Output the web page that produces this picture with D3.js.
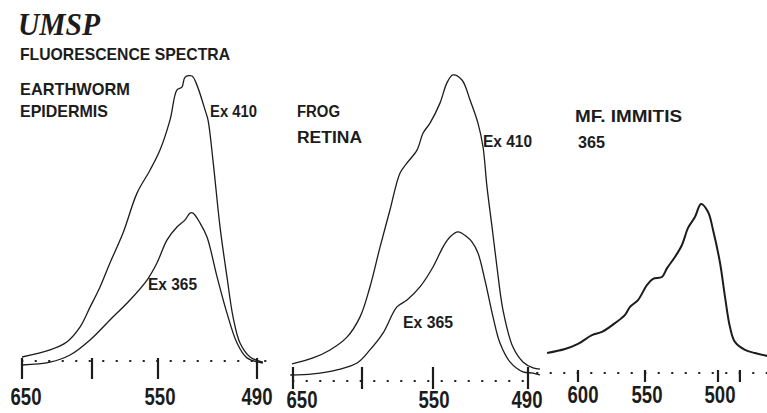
<!DOCTYPE html>
<html>
<head>
<meta charset="utf-8">
<script src="https://cdn.jsdelivr.net/npm/d3@7/dist/d3.min.js"></script>
<style>
  html, body { margin: 0; padding: 0; background: #fff; }
  svg { display: block; }
</style>
</head>
<body>
<svg id="chart" width="767" height="413"></svg>
<script>
// ---------- DATA (wavelength nm, relative fluorescence intensity) ----------
const wormEx410 = [
  [650,1.4],[630,3.9],[618,6.7],[608.6,11.9],[601.4,18.9],[593.9,26],[586.4,34.4],
  [576.5,44.9],[565.9,58.9],[556,67],[548.8,74],[542.7,84.6],[538.5,95.1],[535.5,96.1],
  [533.6,99.6],[529.4,100],[526.4,96.8],[521.5,88.1],[519.7,84.6],[516.7,70.5],
  [512.4,47],[508.2,29.5],[504.5,15.4],[500.3,6.3],[494.2,1.4],[486.4,-0.4]
];
const wormEx365 = [
  [650,-1.4],[630,-0.4],[615.7,2.1],[601.4,7.4],[586.4,14.4],[571.2,21.4],[558.3,28.4],
  [550.8,34.4],[544.5,42.5],[538.5,47],[533.6,49.5],[530.6,51.9],[528.8,51.9],
  [524.5,48.4],[520.3,43.5],[514.2,29.5],[508.2,16.8],[502.1,6.3],[496.1,1.1],[486.4,-0.7]
];
const frogEx410 = [
  [650.7,6],[635.5,8.1],[623.2,10.9],[610.9,15.4],[601.4,22.5],[594.4,33],[587.3,47],
  [580.3,60],[573.2,73],[568.3,76.5],[561.3,81],[557,87],[552.1,90.5],[545.6,97.5],
  [541.2,104.6],[537.4,107.4],[531.7,105.6],[526.6,98.6],[521.6,90.5],[518.4,82.1],
  [515.9,68.1],[512.7,54],[509.6,40],[505.8,24.9],[499.5,11.9],[493.2,6.7],[486.8,4.6],[482.4,4.2]
];
const frogEx365 = [
  [652,2.1],[635.5,2.5],[618.1,3.9],[603.6,6.3],[594.4,10.9],[585.2,16.8],[575.4,26],
  [568.3,28.4],[559.2,33],[550,40],[543.7,47],[539.3,50.5],[534.2,52.3],[528.5,50.5],
  [525.4,48.8],[521.6,44.9],[517.2,35.4],[512.1,22.5],[507.7,13.3],[501.4,6.7],
  [493.2,3.2],[486.8,2.8],[482.4,2.1]
];
const mfEx365 = [
  [623.1,7],[609.7,8.4],[600,10.2],[589.6,13.3],[582.1,14.4],[572.4,17.5],[564.9,20.4],
  [561.2,23.2],[555.2,25.6],[548.6,30.9],[544.5,33],[538.4,33.7],[534.9,36.8],[529.5,40.7],
  [524.7,44.9],[520.5,50.9],[515.8,54.7],[511.6,59.3],[506.8,56.5],[503.4,50.2],
  [498.6,38.6],[495.2,26.7],[491.8,16.1],[488.4,10.9],[481.5,8.1],[474.7,7],[466.4,6]
];

// axis ticks (wavelength) and which carry labels
const wormTicks = [650, 600, 550, 490];
const wormTickLabels = ["650", "", "550", "490"];
const frogTicks = [650, 600, 550, 490];
const frogTickLabels = ["650", "", "550", "490"];
const mfTicks = [600, 550, 500, 485];
const mfTickLabels = ["600", "550", "500", ""];

// ---------- LAYOUT / STYLE ----------
const svg = d3.select("#chart");
const ink = "#1c1c1c";
const labelFont = "'Liberation Sans Narrow','Arial Narrow','Liberation Sans',Arial,sans-serif";
const sans = "'Liberation Sans',Arial,sans-serif";

const panels = [
  { series: [wormEx410, wormEx365], ticks: wormTicks, labels: wormTickLabels,
    domain: [650, 600, 550, 490], range: [22, 92, 158, 257],
    base: 361, dotsFrom: 650, dotsTo: 482, tickUp: 3, tickDown: 18,
    labelY: 405, labelDx: [4, 0, 2, 0], width: 1.3 },
  { series: [frogEx410, frogEx365], ticks: frogTicks, labels: frogTickLabels,
    domain: [650, 600, 550, 490], range: [293, 362, 433, 528],
    base: 381, dotsFrom: 650, dotsTo: 490, tickUp: 14, tickDown: 8,
    labelY: 408, labelDx: [9, 0, 1, -1], width: 1.3 },
  { series: [mfEx365], ticks: mfTicks, labels: mfTickLabels,
    domain: [600, 550, 500], range: [578, 645, 718],
    base: 373, dotsFrom: 640 - 0, dotsTo: 466, tickUp: 3, tickDown: 9,
    labelY: 403, labelDx: [5, 2, 2, 0], width: 2.0 }
];

panels.forEach(p => {
  const x = d3.scaleLinear().domain(p.domain).range(p.range);
  const y = d3.scaleLinear().domain([0, 100]).range([p.base, p.base - 285]);
  const g = svg.append("g");

  // dotted baseline
  const x0 = p === panels[2] ? 537 : x(p.dotsFrom);
  g.append("line")
    .attr("x1", x0).attr("x2", x(p.dotsTo))
    .attr("y1", y(0)).attr("y2", y(0))
    .attr("stroke", ink).attr("stroke-width", 2)
    .attr("stroke-linecap", "round")
    .attr("stroke-dasharray", "0.5,13");

  // ticks
  g.selectAll("line.tick").data(p.ticks).join("line")
    .attr("class", "tick")
    .attr("x1", d => x(d)).attr("x2", d => x(d))
    .attr("y1", y(0) - p.tickUp).attr("y2", y(0) + p.tickDown)
    .attr("stroke", ink).attr("stroke-width", 2.2);

  // tick labels
  g.selectAll("text.tl").data(p.ticks.map((t, i) => ({ t, s: p.labels[i], i })).filter(d => d.s))
    .join("text")
    .attr("class", "tl")
    .attr("x", d => x(d.t) + p.labelDx[d.i])
    .attr("y", p.labelY)
    .attr("text-anchor", "middle")
    .attr("font-family", labelFont)
    .attr("font-weight", "bold")
    .attr("font-size", 23)
    .attr("textLength", 31)
    .attr("lengthAdjust", "spacingAndGlyphs")
    .attr("fill", ink)
    .text(d => d.s);

  // spectra
  const line = d3.line().x(d => x(d[0])).y(d => y(d[1])).curve(d3.curveCatmullRom.alpha(0.5));
  p.series.forEach(s => {
    g.append("path").datum(s)
      .attr("d", line)
      .attr("fill", "none")
      .attr("stroke", ink)
      .attr("stroke-width", p.width)
      .attr("stroke-linejoin", "round");
  });
});

// ---------- TEXT ANNOTATIONS ----------
const texts = [
  { s: "UMSP", x: 18, y: 35, size: 31, len: 82, fam: "'Liberation Serif','Times New Roman',serif", style: "italic" },
  { s: "FLUORESCENCE SPECTRA", x: 20, y: 60, size: 17, len: 210 },
  { s: "EARTHWORM", x: 20, y: 95, size: 17, len: 110 },
  { s: "EPIDERMIS", x: 20, y: 117, size: 17, len: 88 },
  { s: "Ex 410", x: 210, y: 117, size: 17, len: 47 },
  { s: "Ex 365", x: 148, y: 290, size: 17, len: 49 },
  { s: "FROG", x: 297, y: 117, size: 16, len: 43 },
  { s: "RETINA", x: 297, y: 143, size: 16, len: 65 },
  { s: "Ex 410", x: 483, y: 147, size: 17, len: 49 },
  { s: "Ex 365", x: 403, y: 328, size: 17, len: 50 },
  { s: "MF. IMMITIS", x: 575, y: 122, size: 17, len: 107 },
  { s: "365", x: 578, y: 148, size: 17, len: 27 }
];
svg.selectAll("text.ann").data(texts).join("text")
  .attr("class", "ann")
  .attr("x", d => d.x).attr("y", d => d.y)
  .attr("font-family", d => d.fam || sans)
  .attr("font-style", d => d.style || "normal")
  .attr("font-weight", "bold")
  .attr("font-size", d => d.size)
  .attr("textLength", d => d.len)
  .attr("lengthAdjust", "spacingAndGlyphs")
  .attr("fill", ink)
  .text(d => d.s);
</script>
</body>
</html>
